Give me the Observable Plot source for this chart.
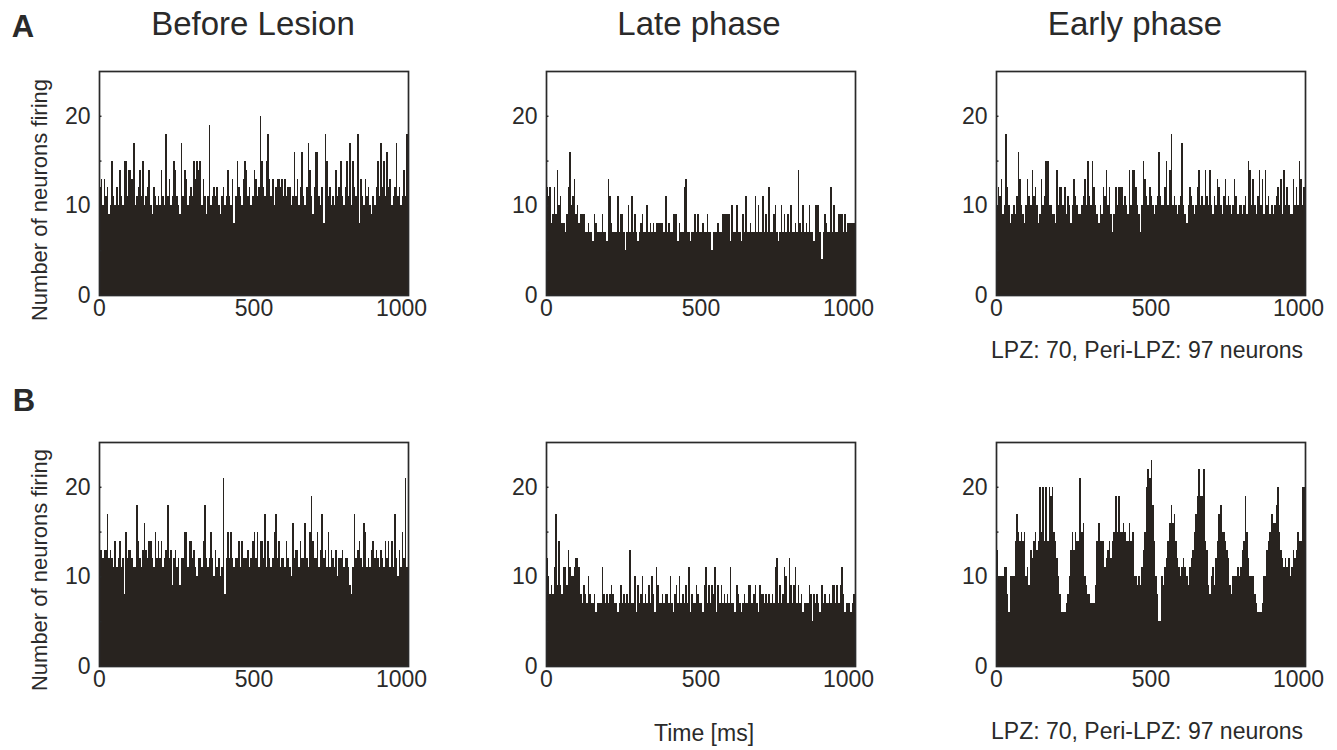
<!DOCTYPE html>
<html><head><meta charset="utf-8">
<script src="https://cdn.jsdelivr.net/npm/d3@7"></script>
<script src="https://cdn.jsdelivr.net/npm/@observablehq/plot@0.6"></script>
<style>
body{margin:0;background:#fff;}
#root{position:relative;width:1337px;height:750px;font-family:"Liberation Sans",Arial,Helvetica,sans-serif;color:#2a2a2a;overflow:hidden;background:#fff;}
.t{position:absolute;white-space:nowrap;line-height:1;transform:translate(-50%,-50%);}
.panel{position:absolute;}
</style></head><body><div id="root"></div>
<script>
// Bin width of the spike-count histograms (ms)
const BIN_MS = 5;

// Column titles and row labels
const columnTitles = ["Before Lesion", "Late phase", "Early phase"];
const rowLetters = ["A", "B"];
const yLabel = "Number of neurons firing";
const xLabel = "Time [ms]";
const noteText = "LPZ: 70, Peri-LPZ: 97 neurons";
const xTicks = [0, 500];
const xLastTick = [1000];
const yTicks = [0, 10, 20];
const yMinorTicks = [5, 10, 15, 20];

// Row A: number of neurons firing per 5 ms bin (0–1000 ms)
const rowA_before = [
12,13,10,13,11,12,9,10,15,11,10,12,10,14,11,10,15,15,11,14,
14,13,17,10,11,12,14,11,15,10,11,12,14,10,9,12,11,10,11,10,
14,11,10,18,11,13,10,11,15,14,11,10,9,17,11,14,13,10,11,12,
11,15,13,15,14,15,10,13,11,9,11,19,10,11,12,11,12,10,9,11,
12,10,11,14,11,10,13,8,11,15,12,11,10,13,15,14,11,12,10,11,
14,13,11,12,20,15,12,11,15,18,13,11,13,10,12,13,13,12,13,11,
13,11,12,12,10,11,16,11,13,10,12,16,11,10,12,17,14,11,9,12,
16,16,11,10,12,8,18,15,11,12,10,11,10,14,11,12,15,11,10,12,
15,11,17,10,15,12,11,18,8,13,11,10,13,11,12,10,9,11,10,12,
15,11,17,12,15,11,16,12,13,10,11,12,17,11,12,10,11,14,11,18];

const rowA_late = [
12,11,12,8,9,12,9,14,10,11,8,8,7,9,12,16,10,11,13,9,
10,8,9,9,9,7,7,8,7,7,6,9,8,7,7,7,9,7,7,6,
13,11,8,7,7,7,11,7,9,9,7,5,7,10,7,11,7,9,7,6,
7,8,9,7,7,10,7,8,7,8,7,8,8,8,8,8,7,11,7,8,
7,7,9,9,9,6,8,7,7,12,13,7,7,6,7,7,9,7,9,7,
7,8,7,7,9,7,7,5,7,7,7,8,7,7,9,9,9,9,9,6,
10,7,7,10,7,7,6,9,7,11,7,7,8,7,7,11,7,10,7,7,
11,7,9,7,12,7,7,9,10,7,6,7,10,7,9,7,9,7,10,7,
7,8,7,14,8,7,10,7,8,7,10,7,7,6,10,10,10,7,4,7,
9,8,7,7,12,7,10,7,7,9,9,9,7,9,7,8,8,8,8,8];

const rowA_early = [
10,12,11,13,9,10,18,12,10,8,9,10,9,11,16,13,10,9,8,10,
13,11,10,14,11,12,10,8,9,13,10,11,15,15,10,10,9,9,8,14,
10,12,12,10,12,9,11,10,8,10,13,11,10,9,9,10,11,13,10,15,
11,10,15,12,10,9,8,10,9,12,11,14,10,12,9,7,9,12,10,12,
12,12,10,11,10,9,14,10,14,14,12,10,9,7,10,15,13,11,10,12,
11,10,9,10,11,16,11,10,10,12,15,10,14,18,10,11,10,9,10,11,
17,10,9,8,10,12,11,10,9,10,12,14,10,11,10,14,11,10,14,10,
9,11,10,13,12,10,9,11,13,10,11,10,9,10,13,11,9,10,10,9,
10,11,9,15,14,10,13,10,9,11,14,10,13,9,14,10,11,9,10,9,
10,11,12,10,13,9,14,10,12,10,9,9,13,10,12,10,15,13,10,12];

// Row B
const rowB_before = [
13,13,12,13,13,17,12,13,12,11,14,11,12,14,11,12,8,15,12,13,
13,12,11,11,18,14,12,11,13,16,13,12,14,14,12,11,15,12,14,12,
14,11,12,13,18,12,13,9,12,13,11,12,9,12,12,15,15,11,14,14,
12,13,11,10,12,12,11,14,18,12,11,12,15,12,10,13,11,12,10,11,
21,8,12,15,12,15,12,11,12,12,14,11,14,12,12,12,13,11,12,14,
15,12,15,11,14,14,12,17,11,14,12,11,12,15,17,12,14,11,12,12,
11,14,12,11,10,16,12,13,13,11,14,12,12,16,12,11,15,19,14,12,
12,15,11,13,17,12,13,11,15,11,13,12,11,13,10,12,12,13,11,12,
12,11,9,8,11,17,12,13,14,12,11,16,15,11,12,11,13,14,12,13,
12,11,13,12,11,14,12,14,11,14,11,17,12,10,13,11,15,12,21,11];

const rowB_late = [
12,10,8,9,8,11,17,9,14,9,8,11,11,9,13,11,10,10,11,12,
12,11,8,7,9,8,7,10,8,7,7,8,6,7,7,7,11,8,7,8,
7,8,9,8,7,7,6,7,9,7,8,7,8,7,13,7,7,10,6,9,
7,8,10,7,8,7,9,7,10,8,6,11,9,7,7,8,7,8,8,7,
10,7,6,8,9,7,10,7,8,7,9,7,11,6,8,7,7,9,8,7,
7,6,9,11,7,9,7,9,8,11,6,9,7,9,7,8,7,8,7,11,
7,7,6,9,8,7,6,7,8,7,7,9,9,7,8,9,7,6,9,8,
8,7,8,7,8,7,8,7,11,12,7,9,7,8,11,10,7,12,9,7,
9,11,7,9,7,8,6,7,7,7,9,8,5,8,7,8,7,6,9,7,
8,7,7,8,7,9,9,7,9,7,9,11,8,6,7,7,7,6,7,8];

const rowB_early = [
13,10,10,10,10,11,11,8,6,10,10,10,14,17,15,14,15,14,15,10,
11,9,13,12,14,15,13,14,20,15,20,14,20,14,20,19,20,15,14,12,
10,8,6,6,6,7,8,10,13,15,13,15,14,14,21,15,16,10,9,8,
8,7,7,7,9,14,16,14,14,14,11,12,13,14,12,14,15,19,15,19,
15,15,16,15,14,14,16,14,15,10,10,9,10,9,11,13,15,20,22,21,
23,18,14,10,8,5,5,10,9,11,12,14,16,18,16,17,14,12,11,10,
11,12,11,10,9,11,12,13,15,17,19,22,19,19,22,14,13,9,8,10,
11,9,12,14,17,18,15,15,14,13,12,9,8,10,10,10,11,10,11,13,
14,19,15,12,10,10,10,8,7,6,6,6,7,10,10,13,14,15,17,16,
16,18,20,15,13,12,11,12,11,12,10,11,13,12,13,15,14,14,20,20];

const panels = [
  [rowA_before, rowA_late, rowA_early],
  [rowB_before, rowB_late, rowB_early]
];

// ---- layout ----
const root = document.getElementById("root");
const FONT = '"Liberation Sans", Arial, Helvetica, sans-serif';
const INK = "#2a2a2a";
const BAR = "#28231f";
const frameLeft = [99, 546, 996];
const frameTop = [71, 442];
const ML = 50, MT = 5, PW = 309, PH = 224, MR = 30, MB = 45;

function addText(txt, x, y, size, opts = {}) {
  const d = document.createElement("div");
  d.className = "t";
  d.textContent = txt;
  d.style.left = x + "px";
  d.style.top = y + "px";
  d.style.fontSize = size + "px";
  if (opts.bold) d.style.fontWeight = "bold";
  if (opts.rotate) d.style.transform = "translate(-50%,-50%) rotate(-90deg)";
  root.appendChild(d);
}

function makePanel(values) {
  const data = values.map((v, i) => ({t0: i * BIN_MS, t1: (i + 1) * BIN_MS, v}));
  return Plot.plot({
    width: ML + PW + MR,
    height: MT + PH + MB,
    marginLeft: ML, marginRight: MR, marginTop: MT, marginBottom: MB,
    style: {fontSize: "23px", fontFamily: FONT, color: INK, background: "transparent", overflow: "visible"},
    x: {domain: [0, 1000]},
    y: {domain: [0, 25]},
    marks: [
      Plot.rectY(data, {x1: "t0", x2: "t1", y1: 0, y2: "v", fill: BAR, inset: 0, shapeRendering: "crispEdges"}),
      Plot.ruleY(yMinorTicks, {x1: 0, x2: 8, stroke: INK, strokeWidth: 1.5}),
      Plot.frame({stroke: INK, strokeWidth: 1.7}),
      Plot.axisX({ticks: xTicks, tickSize: 0, tickPadding: 4, label: null, tickFormat: d => String(d), fill: INK}),
      Plot.axisX({ticks: xLastTick, tickSize: 0, tickPadding: 4, label: null, tickFormat: d => String(d), fill: INK, dx: -7}),
      Plot.axisY({ticks: yTicks, tickSize: 0, tickPadding: 9, label: null, tickFormat: d => String(d), fill: INK})
    ]
  });
}

panels.forEach((row, r) => {
  row.forEach((vals, c) => {
    const div = document.createElement("div");
    div.className = "panel";
    div.style.left = (frameLeft[c] - ML) + "px";
    div.style.top = (frameTop[r] - MT) + "px";
    div.style.width = (ML + PW + MR) + "px";
    div.appendChild(makePanel(vals));
    root.appendChild(div);
  });
});

// titles
const titleX = [253, 699, 1135];
columnTitles.forEach((t, i) => addText(t, titleX[i], 23, 33));
addText(rowLetters[0], 23, 26, 31, {bold: true});
addText(rowLetters[1], 24, 400, 31, {bold: true});
addText(yLabel, 40, 200, 22, {rotate: true});
addText(yLabel, 40, 570, 22, {rotate: true});
addText(noteText, 1147, 350, 23);
addText(noteText, 1147, 731, 23);
addText(xLabel, 704, 733, 23);
</script></body></html>
